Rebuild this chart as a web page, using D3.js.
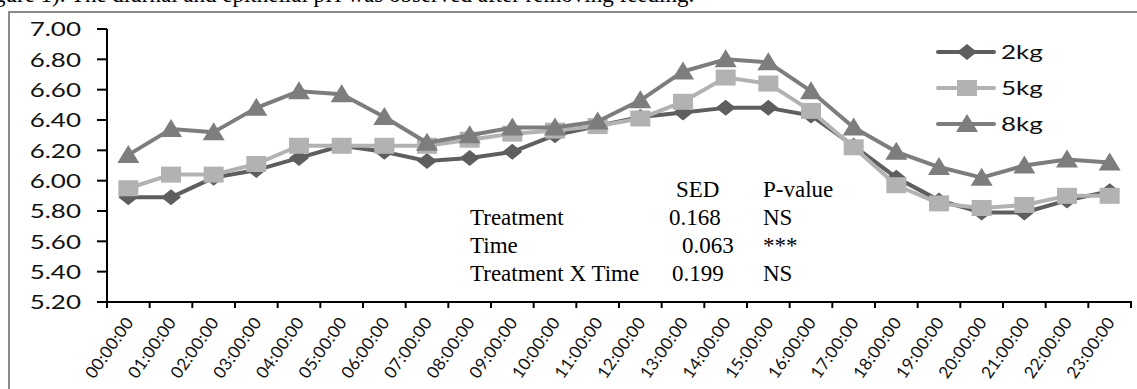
<!DOCTYPE html>
<html>
<head>
<meta charset="utf-8">
<script src="https://cdn.jsdelivr.net/npm/d3@7"></script>
<style>
  html, body { margin: 0; padding: 0; background: #fff; overflow: hidden; }
  svg { display: block; }
</style>
</head>
<body>
<div id="chart"></div>
<script>
// hours of the day
const hours = ['00:00:00','01:00:00','02:00:00','03:00:00','04:00:00','05:00:00',
  '06:00:00','07:00:00','08:00:00','09:00:00','10:00:00','11:00:00',
  '12:00:00','13:00:00','14:00:00','15:00:00','16:00:00','17:00:00',
  '18:00:00','19:00:00','20:00:00','21:00:00','22:00:00','23:00:00'];

const ph2kg = [5.89,5.89,6.02,6.07,6.15,6.23,6.19,6.13,6.15,6.19,6.30,6.36,
  6.42,6.45,6.48,6.48,6.43,6.23,6.02,5.87,5.79,5.79,5.87,5.93];
const ph5kg = [5.95,6.04,6.04,6.11,6.23,6.23,6.23,6.23,6.27,6.31,6.33,6.36,
  6.41,6.52,6.68,6.64,6.46,6.22,5.97,5.85,5.82,5.84,5.90,5.90];
const ph8kg = [6.17,6.34,6.32,6.48,6.59,6.57,6.42,6.25,6.30,6.35,6.35,6.39,
  6.53,6.72,6.80,6.78,6.59,6.35,6.19,6.09,6.02,6.10,6.14,6.12];

const seriesNames = ['2kg', '5kg', '8kg'];
const yTicks = [5.2,5.4,5.6,5.8,6.0,6.2,6.4,6.6,6.8,7.0];

const tableHead = ['SED', 'P-value'];
const tableRows = ['Treatment', 'Time', 'Treatment X Time'];
const tableSed = ['0.168', '0.063', '0.199'];
const tablePval = ['NS', '***', 'NS'];

const W = 1137, H = 389;
const stretch = 1.3;
const sans = 'Lato, "Open Sans", sans-serif';
const serif = '"Liberation Serif", "Times New Roman", serif';

const svg = d3.select('#chart').append('svg')
  .attr('width', W).attr('height', H);

// line of body text above the figure, cut by the page edge as in the source
svg.append('text')
  .attr('x', -6).attr('y', 2)
  .style('font-family', serif).style('font-size', '23px')
  .text('gure 1). The diurnal and epithelial pH was observed after removing feeding.');

// figure frame
svg.append('rect')
  .attr('x', 9).attr('y', 12).attr('width', W + 20).attr('height', H + 20)
  .attr('fill', 'none').attr('stroke', '#8a8a8a').attr('stroke-width', 2);

const x = d3.scaleBand().domain(hours).range([107, 1131]);
const y = d3.scaleLinear().domain([5.2, 7.0]).range([302, 29]);
const cx = d => x(d) + x.bandwidth() / 2;

// y axis
const yAxis = svg.append('g');
yAxis.append('line')
  .attr('x1', 107).attr('x2', 107).attr('y1', y(7.0)).attr('y2', y(5.2))
  .attr('stroke', '#000').attr('stroke-width', 2);
yAxis.selectAll('line.tick').data(yTicks).enter().append('line')
  .attr('class', 'tick')
  .attr('x1', 97).attr('x2', 107).attr('y1', d => y(d)).attr('y2', d => y(d))
  .attr('stroke', '#000').attr('stroke-width', 2);
yAxis.selectAll('g.lab').data(yTicks).enter().append('g')
  .attr('class', 'lab')
  .attr('transform', d => 'translate(81,' + y(d) + ') scale(' + stretch + ',1)')
  .append('text')
  .attr('text-anchor', 'end').attr('dy', '0.36em')
  .style('font-family', sans).style('font-size', '20px').style('fill', '#111')
  .text(d => d.toFixed(2));

// x axis
const xAxis = svg.append('g');
xAxis.append('line')
  .attr('x1', 106).attr('x2', 1132).attr('y1', y(5.2)).attr('y2', y(5.2))
  .attr('stroke', '#000').attr('stroke-width', 2);
const bounds = hours.map(d => x(d)).concat([x.range()[1]]);
xAxis.selectAll('line.tick').data(bounds).enter().append('line')
  .attr('class', 'tick')
  .attr('x1', d => d).attr('x2', d => d).attr('y1', y(5.2)).attr('y2', y(5.2) + 6)
  .attr('stroke', '#000').attr('stroke-width', 2);
xAxis.selectAll('text').data(hours).enter().append('text')
  .attr('transform', d => 'translate(' + (cx(d) + 1) + ',' + (y(5.2) + 17) + ') rotate(-55)')
  .attr('text-anchor', 'end').attr('dy', '0.35em')
  .style('font-family', sans).style('font-size', '17px').style('fill', '#111')
  .style('letter-spacing', '0.3px')
  .text(d => d);

// markers, drawn wide to match the stretched original
function markerPath(kind) {
  if (kind === 'diamond') return 'M0,-8L10,0L0,8L-10,0Z';
  if (kind === 'square') return 'M-10,-8H10V8H-10Z';
  return 'M0,-10L11,8H-11Z';
}

const series = [
  { name: seriesNames[0], values: ph2kg, color: '#5e5e5e', marker: 'diamond' },
  { name: seriesNames[1], values: ph5kg, color: '#b2b2b2', marker: 'square' },
  { name: seriesNames[2], values: ph8kg, color: '#7d7d7d', marker: 'triangle' }
];

const line = d3.line()
  .x((d, i) => cx(hours[i]))
  .y(d => y(d));

series.forEach(s => {
  const g = svg.append('g');
  g.append('path')
    .attr('d', line(s.values))
    .attr('fill', 'none').attr('stroke', s.color)
    .attr('stroke-width', 4).attr('stroke-linejoin', 'round');
  g.selectAll('path.m').data(s.values).enter().append('path')
    .attr('class', 'm')
    .attr('d', markerPath(s.marker))
    .attr('transform', (d, i) => 'translate(' + cx(hours[i]) + ',' + y(d) + ')')
    .attr('fill', s.color);
});

// legend
const legend = svg.append('g');
series.forEach((s, i) => {
  const ly = 52 + i * 36;
  legend.append('line')
    .attr('x1', 938).attr('x2', 994).attr('y1', ly).attr('y2', ly)
    .attr('stroke', s.color).attr('stroke-width', 4).attr('stroke-linecap', 'round');
  legend.append('path')
    .attr('d', markerPath(s.marker))
    .attr('transform', 'translate(967,' + ly + ')')
    .attr('fill', s.color);
  legend.append('g')
    .attr('transform', 'translate(1001,' + ly + ') scale(' + stretch + ',1)')
    .append('text')
    .attr('dy', '0.36em')
    .style('font-family', sans).style('font-size', '20px').style('fill', '#111')
    .text(s.name);
});

// statistics text box
const tbl = svg.append('g')
  .style('font-family', serif).style('font-size', '23px').style('fill', '#000');
tbl.append('text').attr('x', 676).attr('y', 197).text(tableHead[0]);
tbl.append('text').attr('x', 763).attr('y', 197).text(tableHead[1]);
const sedX = [669, 682, 672];
tableRows.forEach((r, i) => {
  const by = 225 + i * 28;
  tbl.append('text').attr('x', 470).attr('y', by).text(r);
  tbl.append('text').attr('x', sedX[i]).attr('y', by).text(tableSed[i]);
  tbl.append('text').attr('x', 763).attr('y', by).text(tablePval[i]);
});
</script>
</body>
</html>
